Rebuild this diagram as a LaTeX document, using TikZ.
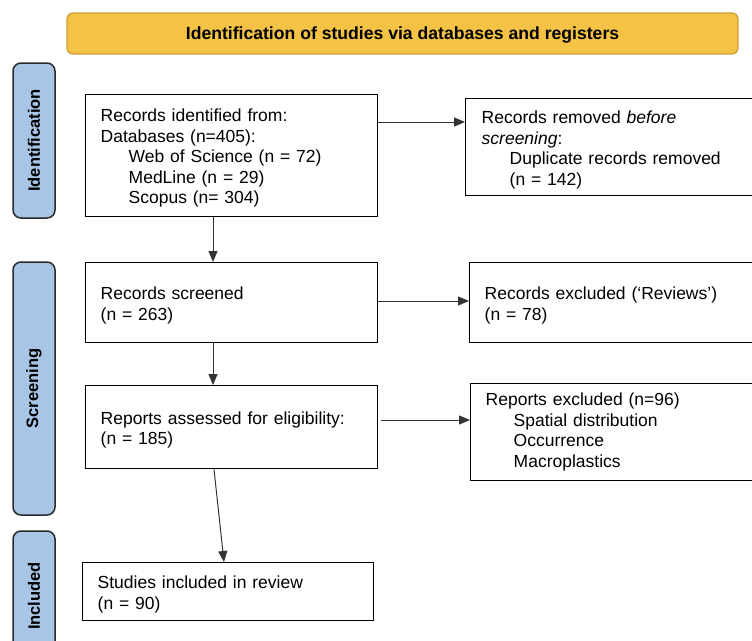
\documentclass[tikz,border=0pt]{standalone}
\usepackage{fontspec}
\setmainfont{Liberation Sans}
\usetikzlibrary{arrows.meta}
\definecolor{hdrfill}{HTML}{F4C244}
\definecolor{hdrdraw}{HTML}{C99F35}
\definecolor{barfill}{HTML}{A8C5E6}
\definecolor{bardraw}{HTML}{2A2A2A}
\definecolor{arrcol}{HTML}{333333}
\newcommand{\tpstrut}{\rule{0pt}{18pt}}
\begin{document}
\begin{tikzpicture}[x=1pt,y=-1pt,
  box/.style={draw=black, line width=1.4pt, anchor=north west, align=left,
    inner xsep=15pt, inner ysep=0pt, font=\fontsize{17.5}{20.5}\selectfont},
  arr/.style={draw=arrcol, line width=1pt, -{Triangle[length=11pt,width=9pt]}},
  bar/.style={draw=bardraw, fill=barfill, line width=1.5pt, rounded corners=8pt,
    rotate=90, minimum height=42pt, inner sep=0pt, font=\bfseries\fontsize{16.5}{19}\selectfont},
  hdr/.style={draw=hdrdraw, fill=hdrfill, line width=1.2pt, rounded corners=6pt,
    text height=12.5pt, text depth=0pt,
    font=\bfseries\fontsize{17.6}{20}\selectfont}]
\useasboundingbox (0,0) rectangle (752,640);
\clip (0,0) rectangle (752,640);
\fill[white] (0,0) rectangle (752,640);

\node[hdr, minimum width=671pt, minimum height=41pt] (hdr) at (402.5,33.5)
  {Identification of studies via databases and registers};

\node[bar, minimum width=155pt] (s1) at (34,140.5) {Identification};
\node[bar, minimum width=253pt] (s2) at (34,388.5) {Screening};
\node[bar, minimum width=130pt] (s3) at (34,596) {Included};

\node[box, minimum width=292pt, text width=262pt, minimum height=122pt] (b1) at (85,94)
  {\tpstrut Records identified from:\\Databases (n=405):\\\hspace*{28pt}Web of Science (n = 72)\\\hspace*{28pt}MedLine (n = 29)\\\hspace*{28pt}Scopus (n= 304)};
\node[box, minimum width=300pt, text width=268pt, minimum height=97pt] (b2) at (465,98)
  {\tpstrut Records removed \textit{before}\\\textit{screening}:\\\hspace*{28pt}Duplicate records removed\\\hspace*{28pt}(n = 142)};
\node[box, minimum width=292pt, text width=262pt, minimum height=80pt] (b3) at (85,262)
  {\tpstrut Records screened\\(n = 263)};
\node[box, minimum width=300pt, text width=270pt, minimum height=80pt] (b4) at (469,262)
  {\tpstrut Records excluded (‘Reviews’)\\(n = 78)};
\node[box, minimum width=292pt, text width=262pt, minimum height=83pt] (b5) at (85,385)
  {\tpstrut Reports assessed for eligibility:\\(n = 185)};
\node[box, minimum width=300pt, text width=270pt, minimum height=97pt] (b6) at (470,383)
  {Reports excluded (n=96)\\\hspace*{28pt}Spatial distribution\\\hspace*{28pt}Occurrence\\\hspace*{28pt}Macroplastics};
\node[box, minimum width=291pt, text width=261pt, minimum height=58pt] (b7) at (82,562)
  {\tpstrut Studies included in review\\(n = 90)};

\coordinate (ya) at (0,122);
\coordinate (yb) at (0,301);
\coordinate (yc) at (0,420);
\coordinate (xa) at (213,0);
\coordinate (xb) at (214,0);
\coordinate (xc) at (224,0);

\draw[arr] (b1.east |- ya) -- (b2.west |- ya);
\draw[arr] (b3.east |- yb) -- (b4.west |- yb);
\draw[arr, shorten <=3pt] (b5.east |- yc) -- (b6.west |- yc);
\draw[arr] (b1.south -| xa) -- (b3.north -| xa);
\draw[arr] (b3.south -| xa) -- (b5.north -| xa);
\draw[arr] (b5.south -| xb) -- (b7.north -| xc);
\end{tikzpicture}
\end{document}
